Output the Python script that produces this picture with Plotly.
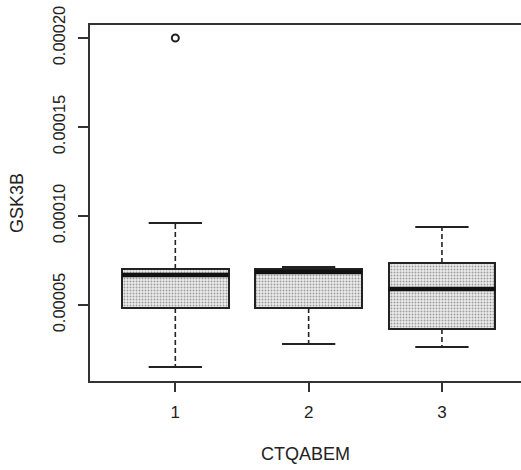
import plotly.graph_objects as go

# ---- data ----
groups = [1, 2, 3]
tick_labels = ["1", "2", "3"]
q1 = [4.83e-5, 4.83e-5, 3.65e-5]
median = [6.69e-5, 6.85e-5, 5.90e-5]
q3 = [7.02e-5, 7.02e-5, 7.36e-5]
whisker_low = [1.52e-5, 2.81e-5, 2.64e-5]
whisker_high = [9.61e-5, 7.13e-5, 9.38e-5]
outlier_x = [1]
outlier_y = [2.0e-4]

BOX_W = 0.8
CAP_W = 0.4
INK = "#222222"

fig = go.Figure()

# boxes (Q1..Q3) as bars with stipple pattern
fig.add_trace(go.Bar(
    x=groups, y=[b - a for a, b in zip(q1, q3)], base=q1, width=BOX_W,
    marker=dict(color="#e6e6e6",
                line=dict(color=INK, width=2),
                pattern=dict(shape=".", fgcolor="#4a4a4a", bgcolor="#ededed",
                             size=3, solidity=0.35)),
    hoverinfo="skip", showlegend=False))

# whiskers (dashed)
wx, wy = [], []
for g, a, b, lo, hi in zip(groups, q1, q3, whisker_low, whisker_high):
    wx += [g, g, None, g, g, None]
    wy += [b, hi, None, a, lo, None]
fig.add_trace(go.Scatter(x=wx, y=wy, mode="lines",
                         line=dict(color=INK, width=1.6, dash="5px,3px"),
                         hoverinfo="skip", showlegend=False))

# staples
cx, cy = [], []
for g, lo, hi in zip(groups, whisker_low, whisker_high):
    cx += [g - CAP_W / 2, g + CAP_W / 2, None, g - CAP_W / 2, g + CAP_W / 2, None]
    cy += [hi, hi, None, lo, lo, None]
fig.add_trace(go.Scatter(x=cx, y=cy, mode="lines",
                         line=dict(color=INK, width=2),
                         hoverinfo="skip", showlegend=False))

# medians (thick)
mx, my = [], []
for g, m in zip(groups, median):
    mx += [g - BOX_W / 2, g + BOX_W / 2, None]
    my += [m, m, None]
fig.add_trace(go.Scatter(x=mx, y=my, mode="lines",
                         line=dict(color="#111111", width=4.5),
                         hoverinfo="skip", showlegend=False))

# outliers
fig.add_trace(go.Scatter(x=outlier_x, y=outlier_y, mode="markers",
                         marker=dict(symbol="circle-open", size=7,
                                     color=INK, line=dict(width=2)),
                         hoverinfo="skip", showlegend=False))

font = dict(family="Liberation Sans, Arial, sans-serif", size=16, color="#222222")

fig.update_layout(
    width=521, height=470,
    margin=dict(l=90, r=0, t=25, b=89),
    paper_bgcolor="white", plot_bgcolor="white",
    font=font, showlegend=False, bargap=0,
    xaxis=dict(range=[0.36, 3.593], tickvals=groups, ticktext=tick_labels,
               tickfont=dict(size=17),
               showline=True, linecolor="#333333", linewidth=2, mirror=True,
               ticks="outside", ticklen=9, tickwidth=2, tickcolor="#333333",
               ticklabelstandoff=6,
               showgrid=False, zeroline=False,
               title=dict(text="CTQABEM", font=dict(size=18), standoff=26)),
    yaxis=dict(range=[7.3e-6, 2.073e-4], tick0=0, dtick=5e-5,
               tickformat=".5f", tickangle=-90, tickfont=dict(size=16.5),
               showline=True, linecolor="#333333", linewidth=2, mirror=False,
               ticks="outside", ticklen=10, tickwidth=2, tickcolor="#333333",
               ticklabelstandoff=6,
               showgrid=False, zeroline=False,
               title=dict(text="GSK3B", font=dict(size=18), standoff=22)),
)

fig.write_html("out.html")
